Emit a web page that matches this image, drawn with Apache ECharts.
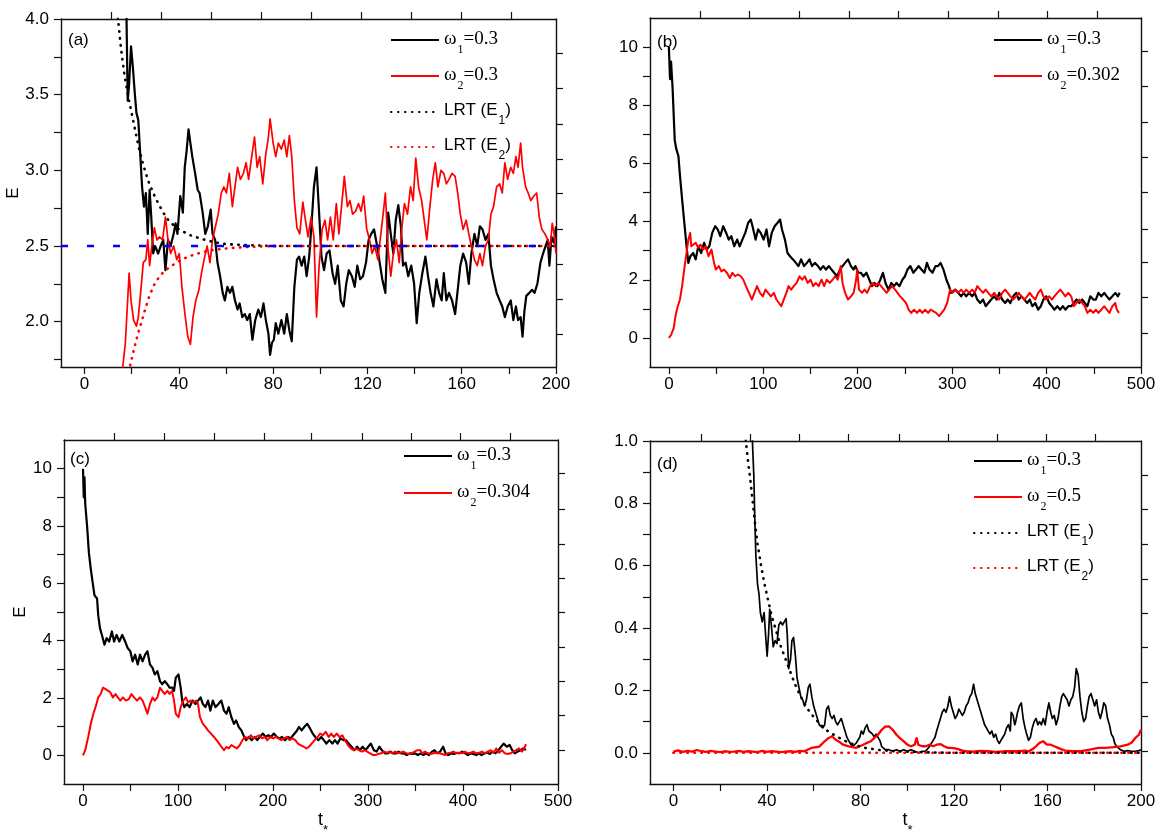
<!DOCTYPE html>
<html><head><meta charset="utf-8">
<script src="https://cdn.jsdelivr.net/npm/echarts@6.0.0/dist/echarts.min.js"></script>
<style>html,body{margin:0;padding:0;background:#fff}#c{width:1166px;height:838px}</style>
</head><body><div id="c"></div>
<script>
// ---------------- Panel (a) ----------------
const aBlack = [[17.5,4.3],[17.8,4.0],[18.3,3.46],[18.9,3.57],[19.7,3.82],[20.5,3.68],[21.3,3.51],[22.0,3.38],[22.8,3.33],[23.6,3.11],[24.4,2.89],[25.2,2.76],[26.0,2.85],[26.8,2.58],[27.6,2.87],[28.3,2.69],[29.1,2.45],[29.9,2.50],[31.2,2.45],[32.3,2.50],[33.4,2.54],[34.3,2.34],[35.4,2.54],[36.5,2.50],[37.8,2.58],[38.6,2.65],[39.4,2.58],[40.6,2.83],[41.7,2.72],[42.5,3.02],[43.3,3.13],[44.1,3.27],[44.9,3.18],[45.7,3.09],[46.9,2.98],[48.0,2.87],[48.8,2.85],[50.1,2.72],[51.2,2.58],[52.3,2.63],[53.5,2.74],[54.3,2.58],[55.4,2.54],[56.4,2.39],[57.5,2.30],[58.6,2.19],[59.5,2.14],[60.6,2.23],[61.7,2.19],[62.7,2.23],[63.8,2.14],[64.9,2.08],[65.8,2.12],[66.9,2.03],[68.0,2.05],[69.0,2.01],[70.1,2.05],[71.2,1.88],[72.4,2.01],[73.7,2.08],[74.8,2.03],[75.9,2.12],[76.9,2.01],[78.0,1.92],[78.7,1.78],[79.5,1.86],[80.3,1.88],[81.1,1.99],[82.2,1.92],[83.5,2.01],[84.7,1.92],[85.8,2.05],[86.9,1.94],[87.9,1.87],[89.0,2.23],[90.1,2.41],[91.0,2.43],[92.1,2.37],[93.2,2.43],[94.2,2.30],[95.3,2.43],[96.4,2.67],[97.3,2.89],[98.4,3.02],[99.5,2.72],[100.5,2.43],[101.6,2.34],[102.7,2.45],[103.9,2.47],[105.2,2.32],[106.3,2.25],[107.4,2.37],[108.7,2.14],[109.9,2.10],[111.0,2.25],[112.1,2.34],[113.4,2.30],[114.6,2.23],[115.7,2.37],[116.9,2.28],[118.1,2.30],[119.4,2.39],[120.5,2.54],[121.6,2.58],[122.8,2.61],[124.1,2.50],[125.2,2.39],[126.3,2.28],[127.6,2.19],[128.8,2.72],[129.9,2.58],[131.0,2.45],[132.0,2.67],[133.1,2.77],[134.2,2.63],[135.1,2.37],[136.2,2.39],[137.3,2.30],[138.6,2.37],[139.8,2.25],[140.9,1.99],[142.0,2.19],[143.3,2.32],[144.6,2.43],[145.7,2.30],[146.8,2.19],[148.0,2.10],[149.3,2.28],[150.4,2.19],[151.5,2.14],[152.4,2.32],[153.5,2.14],[154.6,2.19],[155.9,2.14],[157.2,2.05],[158.3,2.21],[159.4,2.37],[160.6,2.45],[161.9,2.39],[163.0,2.25],[164.1,2.45],[165.4,2.58],[166.6,2.50],[167.7,2.63],[168.8,2.61],[170.1,2.54],[171.3,2.58],[172.4,2.37],[173.5,2.28],[174.8,2.19],[176.1,2.14],[177.2,2.10],[178.3,2.03],[179.5,2.10],[180.8,2.14],[181.9,2.01],[183.0,2.10],[183.9,2.01],[185.0,2.03],[185.8,1.90],[186.6,2.07],[187.4,2.17],[188.7,2.19],[189.8,2.21],[190.9,2.19],[192.1,2.25],[193.4,2.39],[194.5,2.45],[195.6,2.50],[196.5,2.54],[197.2,2.37],[198.1,2.56],[199.2,2.52],[200,2.63]];
const aRed = [[15.8,1.6],[16.2,1.70],[17.3,1.86],[18.9,2.32],[19.7,2.14],[20.8,2.01],[22.0,1.97],[22.8,2.03],[23.9,2.21],[24.9,2.39],[26.0,2.41],[26.8,2.54],[27.6,2.37],[28.3,2.47],[29.6,2.62],[30.7,2.54],[31.8,2.56],[33.1,2.54],[34.3,2.69],[35.4,2.54],[36.5,2.45],[37.8,2.50],[39.1,2.41],[40.2,2.45],[41.3,2.23],[42.5,2.06],[43.8,1.90],[44.9,1.85],[46.0,2.03],[47.2,2.14],[48.5,2.21],[49.6,2.32],[50.7,2.41],[52.0,2.50],[53.2,2.39],[54.3,2.54],[55.4,2.62],[56.7,2.71],[58.0,2.85],[59.1,2.89],[60.2,2.85],[61.4,2.98],[62.7,2.76],[63.8,2.89],[64.9,3.02],[66.1,2.94],[67.4,2.98],[68.5,3.05],[69.6,2.94],[70.9,3.09],[72.1,3.22],[73.2,3.02],[74.3,3.09],[75.6,2.91],[76.9,3.11],[78.0,3.22],[78.7,3.34],[80.0,3.18],[81.1,3.09],[82.2,3.18],[83.5,3.14],[84.7,3.20],[85.8,3.09],[86.9,3.23],[87.9,3.09],[89.0,2.80],[90.1,2.62],[91.3,2.58],[92.6,2.79],[93.7,2.67],[94.8,2.56],[96.1,2.69],[97.3,2.56],[98.4,2.03],[99.5,2.37],[100.8,2.61],[102.0,2.67],[103.1,2.54],[104.3,2.69],[105.5,2.54],[106.8,2.78],[107.9,2.58],[109.0,2.76],[110.2,2.96],[111.5,2.76],[112.6,2.80],[113.7,2.71],[115.0,2.73],[116.2,2.78],[117.3,2.73],[118.4,2.83],[119.7,2.61],[120.9,2.54],[122.0,2.45],[123.1,2.50],[124.4,2.41],[125.7,2.58],[126.8,2.73],[127.6,2.85],[128.8,2.47],[129.9,2.30],[131.0,2.45],[132.3,2.54],[133.5,2.39],[134.6,2.62],[135.7,2.78],[137.0,2.71],[138.3,2.89],[139.4,2.80],[140.5,3.08],[141.7,2.89],[143.0,2.80],[144.1,2.67],[145.2,2.54],[146.5,2.76],[147.7,2.94],[148.8,3.05],[149.9,2.89],[151.2,3.00],[152.4,2.98],[153.5,2.91],[154.6,2.94],[155.9,2.98],[157.2,2.96],[158.3,2.85],[159.4,2.71],[160.6,2.61],[161.9,2.67],[163.0,2.58],[164.1,2.50],[165.4,2.41],[166.6,2.37],[167.7,2.45],[168.8,2.37],[170.1,2.50],[171.3,2.54],[172.4,2.71],[173.5,2.76],[174.8,2.89],[176.1,2.91],[177.2,2.85],[178.3,3.05],[179.5,2.94],[180.8,3.02],[181.9,2.98],[183.0,3.09],[183.9,3.02],[185.0,3.18],[185.8,3.02],[187.1,2.89],[188.2,2.85],[189.3,2.80],[190.6,2.83],[191.8,2.85],[192.9,2.69],[194.0,2.61],[195.3,2.58],[196.5,2.54],[197.6,2.50],[198.4,2.65],[199.2,2.58],[200,2.45]];
const aLrt1 = [[13.5,4.15],[14.2,4.0],[15.5,3.8],[17,3.62],[19,3.45],[21,3.3],[23,3.15],[25,3.03],[27,2.93],[30,2.82],[33,2.73],[36,2.66],[40,2.61],[45,2.57],[50,2.545],[55,2.525],[60,2.512],[70,2.505],[80,2.5],[200,2.5]];
const aLrt2 = [[18.3,1.62],[19.5,1.72],[21,1.82],[22.5,1.91],[24,1.99],[25.5,2.07],[27.5,2.17],[30,2.26],[33,2.32],[36,2.36],[40,2.40],[44,2.43],[48,2.45],[53,2.47],[58,2.48],[65,2.49],[75,2.497],[85,2.5],[200,2.5]];
const aRef = [[-10,2.5],[200,2.5]];
const aXTicks = [0,20,40,60,80,100,120,140,160,180,200];
const aXLabels = [0,40,80,120,160,200];
const aXTop = [11.4,32.6,53.8,75.1,96.3,117.5,138.7,160,181.2];
const aYTicks = [1.75,2.0,2.25,2.5,2.75,3.0,3.25,3.5,3.75,4.0];
const aYLabels = [2.0,2.5,3.0,3.5,4.0];
const aYRight = [1.916,2.147,2.382,2.613,2.846,3.074,3.307,3.543,3.774];

// ---------------- Panel (b) ----------------
const bBlack = [[0,10.0],[1.2,8.9],[2.3,9.5],[3.9,8.6],[6.2,6.8],[7.8,6.5],[10.1,6.25],[11.7,5.6],[14.0,4.76],[16.7,3.84],[18.7,3.15],[20.6,2.58],[22.6,2.8],[25.7,2.92],[28.4,2.7],[31.1,3.15],[34.2,2.92],[37.3,3.27],[40.0,3.04],[42.8,3.15],[45.9,3.61],[49.0,3.84],[51.7,3.73],[54.4,3.5],[57.5,3.84],[60.7,3.61],[63.4,3.38],[66.1,3.5],[69.2,3.15],[72.3,3.38],[75.0,3.15],[77.8,3.38],[80.9,3.61],[84.0,3.96],[86.7,4.07],[88.6,3.84],[91.8,3.38],[94.5,3.73],[97.2,3.61],[100.3,3.38],[103.4,3.73],[106.1,3.15],[108.9,3.61],[112.0,3.84],[115.1,3.96],[117.8,4.07],[119.8,3.73],[122.9,3.38],[125.6,2.92],[128.3,2.81],[131.4,2.7],[134.5,2.58],[137.2,2.47],[140.0,2.7],[143.1,2.47],[146.2,2.58],[148.9,2.7],[151.6,2.47],[154.7,2.58],[157.9,2.47],[160.6,2.35],[163.3,2.47],[166.4,2.35],[169.5,2.47],[172.2,2.35],[175.0,2.24],[178.1,2.12],[181.2,2.35],[183.9,2.47],[186.6,2.58],[189.7,2.7],[192.8,2.47],[195.6,2.35],[197.5,2.47],[200.6,2.24],[203.3,2.24],[206.1,2.12],[209.2,2.24],[212.3,2.0],[215.0,1.78],[217.7,1.89],[220.8,1.78],[223.9,2.0],[226.7,2.24],[229.4,1.89],[232.5,1.66],[235.6,1.89],[238.3,1.78],[241.1,1.89],[244.2,1.78],[247.3,2.0],[250.0,2.12],[252.7,2.35],[255.8,2.47],[258.9,2.24],[261.7,2.35],[264.4,2.47],[267.5,2.35],[270.6,2.24],[273.3,2.58],[276.0,2.35],[279.2,2.24],[282.3,2.47],[285.0,2.47],[287.7,2.58],[290.8,2.35],[293.9,2.0],[296.7,1.78],[298.6,1.55],[300.5,1.55],[303.3,1.66],[306.4,1.55],[309.5,1.43],[312.2,1.55],[314.9,1.43],[318.0,1.55],[321.2,1.43],[323.9,1.55],[326.6,1.32],[329.7,1.2],[332.8,1.32],[335.5,1.09],[338.3,1.2],[341.4,1.32],[344.5,1.43],[347.2,1.32],[349.9,1.55],[353.0,1.32],[356.1,1.2],[358.9,1.32],[361.6,1.2],[364.7,1.43],[367.8,1.55],[370.5,1.32],[373.3,1.43],[376.4,1.32],[379.5,1.2],[382.2,1.32],[384.9,1.09],[388.0,1.2],[391.1,0.97],[393.9,1.09],[396.6,1.32],[399.7,1.43],[402.8,1.2],[405.5,1.09],[408.2,0.97],[411.4,1.09],[414.5,0.97],[417.2,1.09],[419.9,0.97],[423.0,1.09],[426.1,1.09],[428.9,1.2],[431.6,1.32],[434.7,1.2],[437.8,1.32],[440.5,1.2],[443.2,1.09],[446.3,1.43],[449.5,1.32],[452.2,1.32],[454.9,1.55],[458.0,1.43],[461.1,1.55],[463.8,1.43],[466.6,1.32],[469.7,1.43],[472.8,1.55],[475.5,1.43],[477.4,1.55]];
const bRed = [[0,0],[2.3,0.1],[5.1,0.34],[7.0,0.75],[8.9,1.03],[11.7,1.32],[14.0,1.78],[16.7,2.47],[18.7,2.92],[20.6,3.38],[22.6,3.61],[23.7,3.15],[25.7,3.1],[28.4,3.27],[31.1,3.1],[33.4,3.21],[36.2,3.04],[38.9,3.15],[42.0,2.81],[45.1,3.04],[47.8,2.58],[49.8,2.35],[52.9,2.47],[55.6,2.29],[58.3,2.35],[61.4,2.24],[64.5,2.06],[67.3,2.24],[70.0,2.12],[73.1,2.18],[76.2,2.12],[78.9,2.0],[81.6,1.78],[84.8,1.55],[87.9,1.32],[90.6,1.55],[93.3,1.78],[96.4,1.55],[99.5,1.43],[102.3,1.66],[105.0,1.55],[108.1,1.43],[111.2,1.55],[113.9,1.32],[116.6,1.2],[119.0,1.09],[121.7,1.32],[124.4,1.55],[126.7,1.78],[129.5,1.66],[132.2,1.78],[135.3,1.89],[138.4,2.12],[141.1,2.0],[143.9,2.12],[147.0,1.89],[150.1,2.0],[152.8,1.78],[155.5,1.89],[158.6,1.78],[161.7,2.0],[164.5,1.78],[167.2,2.0],[170.3,1.89],[173.4,2.0],[176.1,2.12],[178.8,2.0],[182.0,2.47],[183.9,1.89],[186.6,1.55],[189.7,1.32],[192.8,1.43],[195.6,1.55],[198.3,2.0],[199.4,2.35],[201.4,1.66],[204.5,1.55],[207.2,1.66],[210.0,1.55],[213.1,1.78],[216.2,1.89],[218.9,1.78],[221.6,1.89],[224.7,1.78],[227.8,1.66],[230.6,1.55],[233.3,1.66],[236.4,1.78],[239.5,1.66],[242.2,1.55],[244.9,1.43],[248.1,1.32],[251.2,1.2],[253.9,0.97],[256.6,0.86],[259.7,0.97],[262.8,0.86],[265.6,0.97],[268.3,0.86],[271.4,0.97],[274.5,0.86],[277.2,0.97],[279.9,0.92],[283.0,0.86],[286.2,0.75],[288.9,0.86],[291.6,0.97],[294.7,1.2],[297.8,1.66],[300.5,1.55],[303.3,1.66],[306.4,1.55],[309.5,1.66],[312.2,1.55],[314.9,1.66],[318.0,1.55],[321.2,1.66],[323.9,1.55],[326.6,1.78],[329.7,1.66],[332.8,1.55],[335.5,1.66],[338.3,1.55],[341.4,1.43],[344.5,1.55],[347.2,1.43],[349.9,1.32],[353.0,1.55],[356.1,1.66],[358.9,1.55],[361.6,1.43],[364.7,1.32],[367.8,1.43],[370.5,1.55],[373.3,1.43],[376.4,1.32],[379.5,1.43],[382.2,1.55],[384.9,1.43],[388.0,1.32],[391.1,1.55],[393.9,1.66],[396.6,1.43],[399.7,1.32],[402.8,1.43],[405.5,1.32],[408.2,1.43],[411.4,1.55],[414.5,1.66],[417.2,1.55],[419.9,1.43],[423.0,1.55],[426.1,1.43],[428.9,1.09],[431.6,1.2],[434.7,1.32],[437.8,1.2],[440.5,1.09],[443.2,0.86],[446.3,0.97],[449.5,0.86],[452.2,0.97],[454.9,0.86],[458.0,0.97],[461.1,1.09],[463.8,0.97],[466.6,0.86],[469.7,1.09],[472.8,1.2],[474.4,0.97],[476.7,0.86]];
const bXTicks = [0,50,100,150,200,250,300,350,400,450,500];
const bXLabels = [0,100,200,300,400,500];
const bXTop = [32.9,85.5,138,190.6,243.2,295.8,348.4,401,453.6];
const bYTicks = [0,1,2,3,4,5,6,7,8,9,10];
const bYLabels = [0,2,4,6,8,10];
const bYRight = [0.17,1.4,2.6,3.74,5.0,6.2,7.4,8.66,9.86];

// ---------------- Panel (c) ----------------
const cBlack = [[0,10.0],[0.8,9.0],[1.6,9.7],[2.3,8.8],[4.3,8.0],[6.2,7.07],[8.2,6.5],[10.1,6.04],[12.1,5.58],[14.8,5.47],[16.0,4.89],[17.9,4.43],[19.9,4.2],[22.6,3.86],[24.9,4.09],[27.6,3.97],[30.4,4.32],[32.7,3.97],[35.4,4.2],[38.2,3.97],[41.3,4.2],[44.4,3.97],[47.1,3.74],[49.8,3.63],[52.2,3.28],[54.9,3.51],[57.6,3.17],[60.0,3.51],[62.7,3.28],[65.4,3.51],[67.8,3.63],[70.5,3.17],[73.2,3.05],[75.5,2.82],[78.3,2.94],[81.0,2.59],[83.3,2.48],[86.1,2.59],[88.8,2.48],[91.1,2.36],[93.8,2.36],[95.8,2.25],[97.7,2.71],[100.5,2.82],[102.8,2.36],[104.4,1.91],[106.7,1.68],[109.4,1.79],[112.1,1.68],[115.3,1.91],[118.4,1.79],[121.1,1.91],[123.8,2.02],[126.2,1.79],[128.9,1.68],[131.6,1.91],[134.0,1.56],[136.7,1.91],[139.4,1.68],[142.5,1.79],[145.6,1.91],[148.4,1.56],[151.1,1.45],[153.4,1.68],[156.2,1.33],[158.9,1.1],[161.2,1.22],[163.9,0.99],[166.7,0.87],[169.8,0.64],[171.7,0.53],[174.5,0.64],[177.6,0.53],[180.7,0.64],[183.4,0.53],[186.1,0.64],[189.3,0.76],[192.4,0.64],[195.1,0.7],[197.8,0.64],[200.9,0.76],[204.0,0.64],[206.8,0.59],[209.5,0.64],[212.6,0.53],[215.7,0.64],[218.5,0.59],[221.2,0.7],[224.3,0.82],[227.4,0.99],[230.1,0.87],[232.9,0.99],[236.0,1.1],[239.1,0.93],[241.8,0.76],[244.5,0.64],[247.7,0.53],[250.8,0.64],[253.5,0.53],[256.2,0.41],[259.3,0.53],[262.5,0.41],[265.2,0.53],[267.9,0.41],[271.0,0.59],[274.1,0.53],[276.9,0.53],[279.6,0.41],[282.7,0.3],[285.8,0.18],[288.6,0.3],[291.3,0.18],[294.4,0.3],[297.5,0.18],[300.2,0.3],[303.0,0.41],[306.1,0.18],[309.2,0.13],[311.9,0.3],[314.6,0.18],[317.8,0.07],[320.9,0.07],[323.6,0.13],[326.4,0.07],[329.5,0.07],[332.2,0.13],[334.9,0.07],[337.6,0.07],[340.8,0.01],[343.9,0.07],[346.6,0.05],[349.3,0.07],[352.5,0.01],[355.6,0.07],[358.3,0.01],[361.0,0.07],[364.2,0.01],[367.3,0.13],[370.0,0.18],[372.7,0.07],[375.9,0.13],[379.0,0.3],[381.7,0.07],[384.4,0.01],[387.5,0.07],[390.7,0.05],[393.4,0.09],[396.1,0.07],[399.2,0.13],[402.3,0.07],[405.1,0.01],[407.8,0.07],[410.9,0.05],[414.0,0.01],[416.7,0.07],[419.5,0.01],[422.6,0.07],[425.7,0.09],[428.4,0.05],[431.2,0.13],[434.3,0.07],[437.4,0.18],[440.1,0.3],[442.8,0.41],[446.0,0.3],[449.1,0.36],[451.8,0.18],[454.5,0.07],[457.6,0.13],[460.8,0.18],[463.5,0.24],[466.2,0.18]];
const cRed = [[0,0],[2.3,0.18],[5.5,0.64],[8.2,1.1],[10.9,1.45],[13.2,1.68],[16.0,2.02],[18.7,2.14],[21.0,2.36],[23.8,2.31],[26.5,2.25],[28.8,2.19],[31.5,2.02],[34.3,2.14],[36.6,2.02],[39.3,1.91],[42.1,2.02],[45.2,1.91],[48.3,1.96],[51.0,2.14],[53.7,2.02],[56.9,1.91],[60.0,2.02],[62.7,1.91],[65.4,1.68],[67.8,1.45],[70.5,1.79],[73.2,2.02],[75.5,1.91],[78.3,2.02],[81.0,2.36],[83.3,2.25],[86.1,2.14],[88.8,2.25],[91.1,2.14],[93.8,2.25],[95.8,1.91],[97.7,1.45],[100.5,1.33],[102.8,1.68],[105.5,1.91],[108.3,2.02],[110.6,1.85],[113.3,1.91],[116.0,1.85],[119.2,1.91],[121.1,1.79],[123.1,1.33],[126.2,1.1],[128.9,0.99],[131.6,0.87],[134.7,0.76],[137.9,0.64],[140.6,0.53],[143.3,0.41],[145.6,0.3],[148.4,0.18],[151.1,0.3],[153.4,0.24],[156.2,0.36],[158.9,0.3],[162.0,0.24],[165.1,0.36],[167.8,0.53],[170.6,0.64],[173.7,0.59],[176.8,0.7],[179.5,0.59],[182.2,0.64],[185.4,0.7],[188.5,0.59],[191.2,0.64],[193.9,0.53],[197.0,0.64],[200.2,0.59],[202.9,0.64],[205.6,0.59],[208.7,0.53],[211.8,0.59],[214.6,0.64],[217.3,0.53],[220.4,0.59],[223.5,0.53],[226.2,0.41],[229.0,0.36],[232.1,0.3],[235.2,0.24],[237.9,0.3],[240.7,0.41],[243.8,0.53],[246.9,0.64],[249.6,0.76],[252.3,0.7],[255.5,0.82],[258.6,0.64],[261.3,0.76],[264.0,0.64],[267.1,0.76],[270.2,0.64],[273.0,0.7],[275.7,0.53],[278.8,0.36],[281.9,0.24],[284.7,0.18],[287.4,0.24],[290.5,0.18],[293.6,0.13],[296.3,0.18],[299.1,0.13],[302.2,0.07],[305.3,0.01],[308.0,0.01],[310.7,0.05],[313.9,0.07],[317.0,0.13],[319.7,0.09],[322.4,0.13],[325.5,0.07],[328.7,0.13],[331.4,0.07],[334.1,0.09],[337.2,0.13],[340.3,0.07],[343,0.05],[346,0.07],[349,0.13],[352,0.18],[355,0.18],[357,0.07],[360,0.13],[363,0.07],[366,0.05],[369,0.07],[372,0.09],[375,0.07],[378,0.05],[381,0.01],[384,0.07],[387,0.09],[390,0.13],[393,0.07],[396,0.09],[399,0.07],[402,0.13],[405,0.07],[408,0.09],[411,0.13],[414,0.07],[417,0.09],[420,0.13],[423,0.07],[426,0.13],[429,0.18],[432,0.09],[435,0.24],[438,0.09],[441,0.18],[444,0.07],[447,0.05],[450,0.07],[453,0.13],[456,0.18],[459,0.24],[462,0.13],[464.5,0.24],[466.2,0.39]];
const cXTop = [33.4,86,138,190.6,240.4,293.7,345.7,397.6,450];
const cYRight = [0.19,1.40,2.58,3.77,4.98,6.18,7.36,8.59,9.83];

// ---------------- Panel (d) ----------------
const dBlack = [[33.5,1.15],[33.8,1.0],[34.4,0.89],[34.9,0.73],[35.3,0.63],[36.0,0.54],[36.6,0.51],[37.2,0.45],[38.0,0.42],[38.8,0.45],[39.6,0.36],[40.1,0.31],[40.7,0.38],[41.2,0.46],[41.9,0.41],[42.7,0.34],[43.5,0.36],[44.3,0.35],[45.1,0.41],[45.9,0.42],[46.7,0.41],[47.4,0.42],[48.2,0.43],[48.7,0.38],[49.3,0.27],[50.1,0.30],[50.7,0.36],[51.4,0.37],[52.2,0.31],[52.9,0.24],[53.7,0.21],[54.5,0.18],[55.3,0.17],[56.1,0.15],[56.9,0.17],[57.7,0.21],[58.4,0.22],[59.2,0.18],[60.0,0.15],[60.8,0.13],[61.6,0.11],[62.4,0.09],[63.2,0.09],[63.9,0.08],[64.7,0.09],[65.5,0.14],[66.3,0.15],[67.1,0.12],[67.9,0.11],[68.7,0.12],[69.4,0.10],[70.2,0.09],[71.0,0.10],[71.8,0.11],[72.6,0.09],[73.4,0.07],[74.2,0.05],[74.9,0.04],[75.7,0.03],[76.5,0.02],[77.3,0.02],[78.1,0.03],[78.9,0.04],[79.7,0.05],[80.4,0.07],[81.2,0.06],[82.0,0.08],[82.8,0.09],[83.6,0.07],[84.4,0.07],[85.2,0.06],[85.9,0.05],[86.7,0.06],[87.5,0.05],[88.3,0.04],[89.1,0.02],[89.9,0.02],[90.6,0.01],[91.4,0.005],[92.2,0.01],[93.8,0.005],[95.4,0.01],[96.9,0.005],[98.5,0.01],[100.1,0.005],[101.6,0.01],[103.2,0.005],[104.8,0.0],[106.4,0.005],[107.9,0.005],[109.5,0.02],[110.3,0.03],[111.1,0.04],[111.9,0.05],[112.6,0.07],[113.4,0.09],[114.2,0.11],[115.0,0.13],[115.8,0.14],[116.6,0.13],[117.4,0.15],[118.1,0.18],[118.9,0.15],[119.7,0.13],[120.5,0.11],[121.3,0.12],[122.1,0.14],[122.9,0.14],[123.6,0.12],[124.4,0.13],[125.2,0.15],[126.0,0.16],[126.8,0.18],[127.6,0.19],[128.4,0.22],[129.1,0.19],[129.9,0.17],[130.7,0.15],[131.5,0.13],[132.3,0.11],[133.1,0.09],[133.9,0.08],[134.6,0.07],[135.4,0.06],[136.2,0.07],[137.0,0.05],[137.8,0.06],[138.6,0.04],[139.4,0.03],[140.1,0.04],[140.9,0.05],[141.7,0.06],[142.5,0.08],[143.3,0.09],[144.1,0.07],[144.5,0.13],[145.3,0.12],[146.0,0.09],[146.4,0.10],[147.2,0.13],[148.0,0.15],[148.8,0.16],[149.6,0.11],[150.4,0.08],[151.1,0.06],[151.9,0.04],[152.7,0.05],[153.5,0.08],[154.3,0.10],[155.1,0.11],[155.9,0.09],[156.6,0.10],[157.4,0.09],[158.2,0.11],[159.0,0.09],[159.8,0.13],[160.6,0.16],[161.4,0.13],[162.1,0.11],[162.9,0.12],[163.7,0.09],[164.5,0.11],[165.3,0.15],[166.1,0.18],[166.8,0.19],[167.6,0.18],[168.4,0.17],[169.2,0.15],[170.0,0.17],[170.8,0.18],[171.6,0.21],[172.3,0.27],[173.1,0.25],[173.9,0.18],[174.7,0.13],[175.5,0.10],[176.3,0.11],[177.1,0.15],[177.8,0.18],[178.6,0.19],[179.4,0.17],[180.2,0.15],[181.0,0.17],[181.8,0.13],[182.6,0.11],[183.3,0.13],[184.1,0.16],[184.9,0.15],[185.7,0.11],[186.5,0.09],[187.3,0.06],[188.1,0.05],[188.8,0.03],[189.6,0.02],[190.4,0.02],[191.2,0.01],[192.8,0.005],[194.3,0.007],[195.9,0.005],[197.5,0.005],[199.1,0.007],[200,0.01]];
const dRed = [[0,0.004],[2,0.008],[4,0.003],[6,0.006],[8,0.004],[10,0.009],[12,0.005],[14,0.003],[16,0.006],[18,0.004],[20,0.002],[22,0.005],[24,0.003],[26,0.004],[28,0.006],[30,0.003],[32,0.005],[34,0.004],[36,0.002],[38,0.006],[40,0.003],[42,0.005],[44,0.004],[46,0.002],[48,0.004],[50,0.005],[52,0.003],[54,0.006],[56.1,0.005],[59.2,0.016],[62.4,0.02],[64.7,0.037],[66.3,0.047],[67.9,0.053],[69.4,0.042],[71.0,0.035],[72.6,0.026],[75.0,0.021],[78.1,0.016],[79.7,0.021],[81.2,0.026],[82.8,0.032],[84.4,0.037],[85.9,0.047],[87.5,0.058],[89.1,0.074],[90.6,0.084],[92.2,0.085],[93.8,0.074],[95.4,0.058],[96.9,0.047],[98.5,0.037],[100.1,0.026],[101.6,0.021],[103.2,0.026],[104.0,0.047],[104.8,0.026],[106.4,0.021],[107.9,0.021],[109.5,0.026],[111.1,0.021],[112.6,0.026],[114.2,0.028],[115.8,0.021],[117.4,0.016],[118.9,0.016],[120.5,0.014],[122.1,0.011],[123.6,0.007],[125.2,0.005],[128,0.004],[131,0.006],[134.6,0.005],[138,0.003],[142.5,0.005],[147.2,0.005],[150.4,0.007],[151.9,0.005],[153.5,0.011],[155.1,0.021],[156.6,0.032],[158.2,0.037],[159.8,0.026],[161.4,0.026],[162.9,0.021],[164.5,0.016],[166.1,0.011],[167.6,0.007],[170.8,0.005],[173.9,0.005],[178.6,0.011],[181.8,0.016],[184.9,0.016],[188.1,0.018],[191.2,0.021],[194.3,0.026],[195.9,0.032],[197.5,0.047],[199.1,0.058],[200,0.074]];
const dLrt1 = [[30.5,1.05],[31,1.0],[32,0.93],[33,0.87],[34,0.80],[35,0.73],[36,0.67],[37.5,0.60],[39,0.54],[40.5,0.49],[42,0.44],[44,0.39],[46,0.34],[48,0.30],[50,0.26],[52,0.22],[54.5,0.18],[57,0.145],[60,0.115],[63,0.09],[66,0.07],[70,0.052],[74,0.036],[78,0.024],[82,0.016],[88,0.009],[95,0.005],[105,0.002],[120,0],[200,0]];
const dLrt2 = [[0,0],[200,0]];
const dXTicks = [0,20,40,60,80,100,120,140,160,180,200];
const dXLabels = [0,40,80,120,160,200];
const dXTop = [12,33,54,75,96.6,117.5,138.4,159.5,180.5];
const dYTicks = [0,0.1,0.2,0.3,0.4,0.5,0.6,0.7,0.8,0.9,1.0];
const dYLabels = [0,0.2,0.4,0.6,0.8,1.0];
const dYRight = [0.005,0.116,0.226,0.337,0.447,0.558,0.67,0.78,0.89];

// legend texts
const legendText = {
  a1:'{g|ω}{s|1}{g|=0.3}', a2:'{g|ω}{s|2}{g|=0.3}', a3:'{n|LRT (E}{ns|1}{n|)}', a4:'{n|LRT (E}{ns|2}{n|)}',
  b1:'{g|ω}{s|1}{g|=0.3}', b2:'{g|ω}{s|2}{g|=0.302}',
  c1:'{g|ω}{s|1}{g|=0.3}', c2:'{g|ω}{s|2}{g|=0.304}',
  d1:'{g|ω}{s|1}{g|=0.3}', d2:'{g|ω}{s|2}{g|=0.5}', d3:'{n|LRT (E}{ns|1}{n|)}', d4:'{n|LRT (E}{ns|2}{n|)}'
};
const panelTags = ['(a)','(b)','(c)','(d)'];

// ---------------- build ----------------
const SANS = 'Liberation Sans, Arial, sans-serif';
const SERIF = 'Liberation Serif, Times New Roman, serif';
const AX = '#111';
const grids = [
  {left:61, top:19, width:495, height:348},
  {left:650, top:18, width:491, height:349},
  {left:64, top:440, width:494, height:348},
  {left:650, top:441, width:491, height:348}
];
const fmt1 = v => v.toFixed(1);
const fmt0 = v => String(v);
const panels = [
  {xMin:-10,xMax:200,xTicks:aXTicks,xLabels:aXLabels,xTop:aXTop,yMin:1.7,yMax:4.0,yTicks:aYTicks,yLabels:aYLabels,yRight:aYRight,yFmt:fmt1,yName:'E',yNameGap:38},
  {xMin:-20,xMax:500,xTicks:bXTicks,xLabels:bXLabels,xTop:bXTop,yMin:-1,yMax:11,yTicks:bYTicks,yLabels:bYLabels,yRight:bYRight,yFmt:fmt0},
  {xMin:-20,xMax:500,xTicks:bXTicks,xLabels:bXLabels,xTop:cXTop,yMin:-1,yMax:11,yTicks:bYTicks,yLabels:bYLabels,yRight:cYRight,yFmt:fmt0,yName:'E',yNameGap:34,xName:true},
  {xMin:-10,xMax:200,xTicks:dXTicks,xLabels:dXLabels,xTop:dXTop,yMin:-0.1,yMax:1.0,yTicks:dYTicks,yLabels:dYLabels,yRight:dYRight,yFmt:fmt1,xName:true}
];
const lineAx = {show:true, onZero:false, lineStyle:{color:AX, width:1.4}};
const tickStyle = {color:AX, width:1.2};
const labelStyle = {fontSize:17, fontFamily:SANS, color:'#000'};
const xAxes = [], yAxes = [];
panels.forEach((p, gi) => {
  const bx = {gridIndex:gi, type:'value', min:p.xMin, max:p.xMax, position:'bottom',
    axisLine:lineAx, splitLine:{show:false},
    axisTick:{show:true, inside:false, length:7, customValues:p.xTicks, lineStyle:tickStyle},
    axisLabel:Object.assign({show:true, customValues:p.xLabels, margin:9, formatter:fmt0}, labelStyle)};
  if (p.xName) {
    bx.name = '{t|t}{s|*}';
    bx.nameLocation = 'middle';
    bx.nameGap = 27;
    bx.nameTextStyle = {padding:[0,0,0,24], rich:{
      t:{fontSize:18, fontFamily:SANS, color:'#000', verticalAlign:'top', lineHeight:20},
      s:{fontSize:13, fontFamily:SANS, color:'#000', verticalAlign:'top', lineHeight:12, padding:[13,0,0,0]}}};
  }
  xAxes.push(bx);
  xAxes.push({gridIndex:gi, type:'value', min:p.xMin, max:p.xMax, position:'top',
    axisLine:lineAx, splitLine:{show:false},
    axisTick:{show:true, inside:false, length:7, customValues:p.xTop, lineStyle:tickStyle},
    axisLabel:{show:false}});
  const ly = {gridIndex:gi, type:'value', min:p.yMin, max:p.yMax, position:'left',
    axisLine:lineAx, splitLine:{show:false},
    axisTick:{show:true, inside:false, length:7, customValues:p.yTicks, lineStyle:tickStyle},
    axisLabel:Object.assign({show:true, customValues:p.yLabels, margin:12, formatter:p.yFmt}, labelStyle)};
  if (p.yName) {
    ly.name = p.yName; ly.nameLocation = 'middle'; ly.nameGap = p.yNameGap;
    ly.nameTextStyle = {fontSize:17, fontFamily:SANS, color:'#000'};
  }
  yAxes.push(ly);
  yAxes.push({gridIndex:gi, type:'value', min:p.yMin, max:p.yMax, position:'right',
    axisLine:lineAx, splitLine:{show:false},
    axisTick:{show:true, inside:false, length:7, customValues:p.yRight, lineStyle:tickStyle},
    axisLabel:{show:false}});
});

function solid(name, data, gi, color, width) {
  return {name, type:'line', data, xAxisIndex:2*gi, yAxisIndex:2*gi, symbol:'none', showSymbol:false,
    lineStyle:{color, width, join:'round'}, itemStyle:{color}, silent:true, animation:false};
}
function dotted(name, data, gi, color) {
  return {name, type:'line', data, xAxisIndex:2*gi, yAxisIndex:2*gi, symbol:'none', showSymbol:false,
    lineStyle:{color, width:2.6, type:[0.5,6.5], cap:'round'}, itemStyle:{color}, silent:true, animation:false, z:3};
}
const series = [
  solid('a1', aBlack, 0, '#000', 2.2), solid('a2', aRed, 0, '#ff0000', 1.7),
  dotted('a3', aLrt1, 0, '#000'), dotted('a4', aLrt2, 0, '#ff0000'),
  {name:'aRef', type:'line', data:aRef, xAxisIndex:0, yAxisIndex:0, symbol:'none', showSymbol:false,
    lineStyle:{color:'#0000ff', width:2.5, type:[7,19]}, silent:true, animation:false, z:4},
  solid('b1', bBlack, 1, '#000', 2.2), solid('b2', bRed, 1, '#ff0000', 2),
  solid('c1', cBlack, 2, '#000', 2.2), solid('c2', cRed, 2, '#ff0000', 2),
  solid('d1', dBlack, 3, '#000', 1.7), solid('d2', dRed, 3, '#ff0000', 2.3),
  dotted('d3', dLrt1, 3, '#000'), dotted('d4', dLrt2, 3, '#ff0000')
];
const rich = {
  g:{fontFamily:SERIF, fontSize:19, color:'#000', verticalAlign:'top', lineHeight:20},
  s:{fontFamily:SERIF, fontSize:12, color:'#000', verticalAlign:'top', lineHeight:11, padding:[14,0,0,1]},
  n:{fontFamily:SANS, fontSize:17, color:'#000', verticalAlign:'top', lineHeight:20},
  ns:{fontFamily:SANS, fontSize:12, color:'#000', verticalAlign:'top', lineHeight:11, padding:[13,0,0,1]}
};
function legend(names, left, top, gap) {
  return {data:names, left, top, orient:'vertical', itemWidth:48, itemHeight:14, itemGap:gap, padding:0,
    selectedMode:false, formatter:n => legendText[n], textStyle:{rich},
    itemStyle:{opacity:0, borderWidth:0}};
}
const legends = [
  legend(['a1','a2','a3','a4'], 390, 30, 10),
  legend(['b1','b2'], 993, 30, 10),
  legend(['c1','c2'], 403, 446, 11),
  legend(['d1','d2','d3','d4'], 973, 451, 10)
];
const tagPos = [[68,31],[657,33],[70,450],[657,455]];
const titles = panelTags.map((t, i) => ({text:t, left:tagPos[i][0], top:tagPos[i][1], padding:0,
  textStyle:{fontSize:17, fontWeight:'normal', fontFamily:SANS, color:'#000', lineHeight:18}}));

const chart = echarts.init(document.getElementById('c'), null, {renderer:'canvas'});
chart.setOption({
  animation:false, backgroundColor:'#fff',
  title:titles, grid:grids, xAxis:xAxes, yAxis:yAxes, legend:legends, series
});
</script></body></html>
